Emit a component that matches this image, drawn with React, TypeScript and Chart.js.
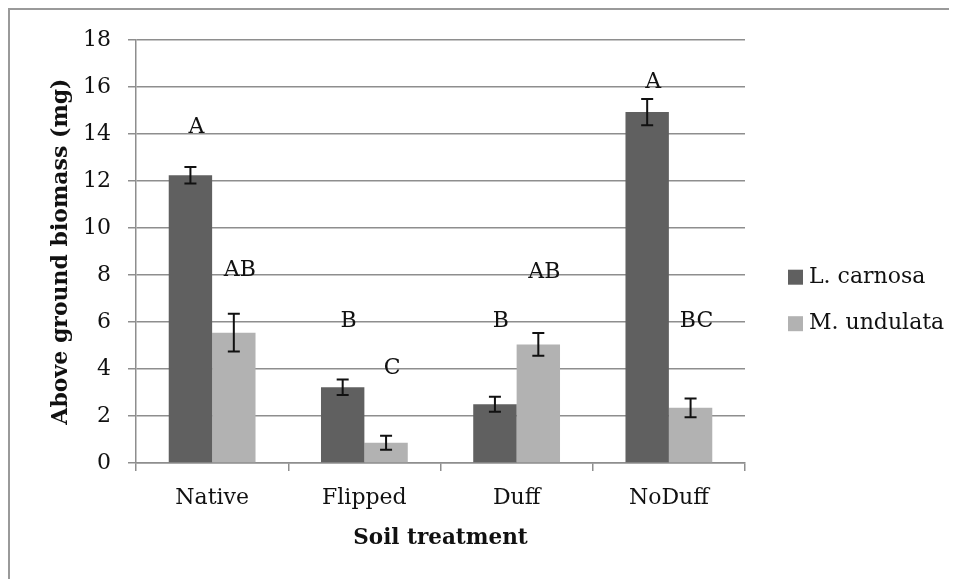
import React, { useEffect, useRef } from "react";
import { Chart, registerables } from "chart.js";

Chart.register(...registerables);

const categories = ["Native", "Flipped", "Duff", "NoDuff"];
const seriesNames = ["L. carnosa", "M. undulata"];
const seriesColors = ["#606060", "#b2b2b2"];
const lCarnosa = [12.25, 3.22, 2.5, 14.94];
const mUndulata = [5.55, 0.86, 5.05, 2.35];
const lCarnosaErr = [0.35, 0.33, 0.32, 0.56];
const mUndulataErr = [0.8, 0.3, 0.48, 0.4];
const lCarnosaLetters = ["A", "B", "B", "A"];
const mUndulataLetters = ["AB", "C", "AB", "BC"];
const lCarnosaLetterY = [14.3, 6.05, 6.05, 16.2];
const mUndulataLetterY = [8.2, 4.05, 8.1, 6.05];
const yMin = 0;
const yMax = 18;
const yStep = 2;
const xTitle = "Soil treatment";
const yTitle = "Above ground biomass (mg)";

const FONT = "'DejaVu Serif', serif";
const GRID = "#8e8e8e";
const TEXT = "#111";

const annotatePlugin = {
  id: "annotate",
  afterDatasetsDraw(chart: any) {
    const ctx = chart.ctx;
    const yScale = chart.scales.y;
    const vals = [lCarnosa, mUndulata];
    const errs = [lCarnosaErr, mUndulataErr];
    const letters = [lCarnosaLetters, mUndulataLetters];
    const letterY = [lCarnosaLetterY, mUndulataLetterY];
    ctx.save();
    for (let d = 0; d < 2; d++) {
      const meta = chart.getDatasetMeta(d);
      meta.data.forEach((bar: any, i: number) => {
        const x = bar.x;
        const top = yScale.getPixelForValue(vals[d][i] + errs[d][i]);
        const bot = yScale.getPixelForValue(vals[d][i] - errs[d][i]);
        ctx.strokeStyle = TEXT;
        ctx.lineWidth = 2;
        ctx.beginPath();
        ctx.moveTo(x, top);
        ctx.lineTo(x, bot);
        ctx.moveTo(x - 6, top);
        ctx.lineTo(x + 6, top);
        ctx.moveTo(x - 6, bot);
        ctx.lineTo(x + 6, bot);
        ctx.stroke();
        ctx.fillStyle = TEXT;
        ctx.font = `22px ${FONT}`;
        ctx.textAlign = "center";
        ctx.textBaseline = "middle";
        ctx.fillText(letters[d][i], x + 6, yScale.getPixelForValue(letterY[d][i]));
      });
    }
    ctx.restore();
  },
  afterDraw(chart: any) {
    const ctx = chart.ctx;
    const area = chart.chartArea;
    const left = area.right + 43;
    const firstY = area.top + 237;
    const step = 46.5;
    ctx.save();
    ctx.font = `22px ${FONT}`;
    ctx.textAlign = "left";
    ctx.textBaseline = "middle";
    chart.data.datasets.forEach((ds: any, i: number) => {
      const cy = firstY + i * step;
      ctx.fillStyle = ds.backgroundColor;
      ctx.fillRect(left, cy - 7.5, 15, 15);
      ctx.fillStyle = TEXT;
      ctx.fillText(ds.label, left + 21, cy);
    });
    ctx.restore();
  },
};

export default function App() {
  const ref = useRef<HTMLCanvasElement>(null);
  useEffect(() => {
    if (!ref.current) return;
    const chart = new Chart(ref.current, {
      type: "bar",
      data: {
        labels: categories,
        datasets: [
          { label: seriesNames[0], data: lCarnosa, backgroundColor: seriesColors[0], categoryPercentage: 0.57, barPercentage: 1 },
          { label: seriesNames[1], data: mUndulata, backgroundColor: seriesColors[1], categoryPercentage: 0.57, barPercentage: 1 },
        ],
      },
      options: {
        responsive: false,
        animation: false,
        layout: { padding: { top: 28, left: 0, right: 212, bottom: 20 } },
        plugins: {
          tooltip: { enabled: false },
          legend: { display: false },
        },
        scales: {
          x: {
            grid: { display: true, drawOnChartArea: false, drawTicks: true, tickLength: 8, color: GRID, lineWidth: 1.5 },
            border: { display: true, color: GRID, width: 1.5 },
            ticks: { color: TEXT, font: { family: FONT, size: 22 }, padding: 14 },
            title: { display: true, text: xTitle, color: TEXT, font: { family: FONT, size: 21.5, weight: "bold" }, padding: { top: 0, bottom: 8 } },
            afterFit: (s: any) => { s.height = 96; },
          },
          y: {
            min: yMin,
            max: yMax,
            ticks: { stepSize: yStep, color: TEXT, font: { family: FONT, size: 22 }, padding: 17 },
            grid: { color: GRID, lineWidth: 1.5, tickLength: 8, drawTicks: true },
            border: { display: true, color: GRID, width: 1.5 },
            title: { display: true, text: yTitle, color: TEXT, font: { family: FONT, size: 22, weight: "bold" }, padding: { top: 38, bottom: 0 } },
            afterFit: (s: any) => { s.width = 126; },
          },
        },
      },
      plugins: [annotatePlugin],
    });
    return () => chart.destroy();
  }, []);
  return (
    <div
      style={{
        width: 949,
        height: 571,
        boxSizing: "border-box",
        borderTop: "2px solid #9a9a9a",
        borderLeft: "2px solid #9a9a9a",
        background: "#fff",
      }}
    >
      <canvas ref={ref} width={947} height={569} style={{ display: "block" }} />
    </div>
  );
}
